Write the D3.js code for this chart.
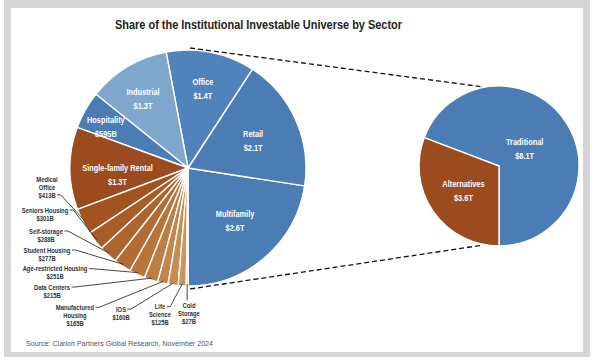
<!DOCTYPE html>
<html><head><meta charset="utf-8">
<script src="https://cdn.jsdelivr.net/npm/d3@7/dist/d3.min.js"></script>
<style>body{margin:0;background:#fff}svg{display:block}
text{font-family:"Liberation Sans",Arial,sans-serif}</style>
</head><body><svg id="c" width="600" height="360"></svg>
<script>
// ---- data ----
const sectors = ["Multifamily","Retail","Office","Industrial","Hospitality","Single-family Rental","Medical Office","Seniors Housing","Self-storage","Student Housing","Age-restricted Housing","Data Centers","Manufactured Housing","IOS","Life Science","Cold Storage"];
const valuesB = [2600,2100,1400,1300,595,1300,413,301,288,277,251,215,165,160,125,27];
const valueLabels = ["$2.6T","$2.1T","$1.4T","$1.3T","$595B","$1.3T","$413B","$301B","$288B","$277B","$251B","$215B","$165B","$160B","$125B","$27B"];
const summaryCats = ["Traditional","Alternatives"];
const summaryValuesT = [8.1,3.6];
const summaryLabels = ["$8.1T","$3.6T"];
const titleText = "Share of the Institutional Investable Universe by Sector";
const sourceText = "Source: Clarion Partners Global Research, November 2024";

// ---- styles / layout ----
const sectorColors = ["#4b7cb4","#4b7cb4","#5083bb","#7fa6cd","#4b7cb4","#9b4b1e",
  "#a3531f","#a95c26","#ae652d","#b36d34","#b8753b","#bd7e44","#c1864c","#c58d54","#c9955d","#cd9c65"];
const summaryColors = ["#4b7cb4","#9b4b1e"];
// inner labels for the large slices: [angle offset deg, radius fraction]
const innerLabelPos = {0:[-1,0.60],1:[1,0.60],2:[-0.5,0.68],3:[-2,0.70],4:[-2.6,0.78],5:[-5.4,0.60]};
// outer labels: [cx, first-line centre y, lines, leader anchor]
const outerLayout = {
  6:[47,179,["Medical","Office","$413B"],"last"],
  7:[45,210,["Seniors Housing","$301B"],"first"],
  8:[46,231,["Self-storage","$288B"],"first"],
  9:[47,250,["Student Housing","$277B"],"first"],
  10:[55,268.7,["Age-restricted Housing","$251B"],"first"],
  11:[52,287,["Data Centers","$215B"],"first"],
  12:[75,307.3,["Manufactured","Housing","$165B"],"first"],
  13:[121,309,["IOS","$160B"],"first"],
  14:[160,306.7,["Life","Science","$125B"],"first"],
  15:[189,305.3,["Cold","Storage","$27B"],"top"]
};
const lh = 7.9;

const svg = d3.select("#c");
// squeezed text helper (emulates a condensed face)
function txt(parent,x,y,s,size,weight,fill,anchor,squeeze,target){
  const t=parent.append("text").attr("x",x).attr("y",y).attr("font-size",size)
    .attr("font-weight",weight).attr("fill",fill).attr("text-anchor",anchor).text(s);
  const w=t.node().getComputedTextLength();
  const nw=target?target:w*squeeze;
  t.attr("textLength",nw).attr("lengthAdjust","spacingAndGlyphs");
  return nw;
}

// frame
svg.append("rect").attr("x",4).attr("y",0).attr("width",586).attr("height",357).attr("fill","#d6d6d6");
svg.append("rect").attr("x",11).attr("y",8).attr("width",572).attr("height",344).attr("fill","#fff");

txt(svg,258.5,28.5,titleText,13.5,"bold","#222","middle",1,287);
txt(svg,26,346,sourceText,8,"normal","#555","start",1,187);

const pie = d3.pie().sort(null).startAngle(Math.PI).endAngle(-Math.PI);
const pt = (a,r)=>[Math.sin(a)*r,-Math.cos(a)*r];
const deg=Math.PI/180;

// ---- big pie ----
const C1 = [188,168], R1 = 118;
const arcs1 = pie(valuesB);
const arc1 = d3.arc().innerRadius(0).outerRadius(R1);
const g1 = svg.append("g").attr("transform",`translate(${C1})`);
g1.selectAll("path").data(arcs1).join("path").attr("d",arc1)
  .attr("fill",(d,i)=>sectorColors[i]).attr("stroke","#fff").attr("stroke-width",1.4).attr("stroke-linejoin","round");

arcs1.forEach((d,i)=>{
  const P=innerLabelPos[i]; if(!P) return;
  const mid=(d.startAngle+d.endAngle)/2+P[0]*deg;
  const [x,y]=pt(mid,R1*P[1]);
  txt(g1,x,y-3.7,sectors[i],9,"bold","#fff","middle",0.82);
  txt(g1,x,y+10.3,valueLabels[i],9,"bold","#fff","middle",0.82);
});
// outer labels with leaders
arcs1.forEach((d,i)=>{
  const L=outerLayout[i]; if(!L) return;
  const [cx,cy,lines,anchor]=L;
  const widths=lines.map((s,k)=>txt(svg,cx,cy+k*lh+2.7,s,7.5,"bold","#333","middle",0.78));
  const mid=(d.startAngle+d.endAngle)/2;
  const [ex,ey]=pt(mid,R1-2); const E=[C1[0]+ex,C1[1]+ey];
  let pts;
  if(anchor==="top"){
    pts=[[E[0],cy-5],E];
  } else {
    const k=anchor==="last"?lines.length-1:0;
    const y=cy+k*lh;
    const x0=cx+widths[k]/2+1.5;
    pts=[[x0,y],[x0+3.5,y],E];
  }
  svg.append("path").attr("d",d3.line()(pts)).attr("fill","none").attr("stroke","#333").attr("stroke-width",0.9);
});

// ---- small pie ----
const C2=[499,166], R2=80;
const arcs2=pie(summaryValuesT);
const arc2=d3.arc().innerRadius(0).outerRadius(R2);
const g2=svg.append("g").attr("transform",`translate(${C2})`);
g2.selectAll("path").data(arcs2).join("path").attr("d",arc2)
  .attr("fill",(d,i)=>summaryColors[i]).attr("stroke","#fff").attr("stroke-width",1.4);
const smallLabelR=[0.39,0.54];
arcs2.forEach((d,i)=>{
  const mid=(d.startAngle+d.endAngle)/2;
  const [x,y]=pt(mid,R2*smallLabelR[i]);
  txt(g2,x,y-3.7,summaryCats[i],9,"bold","#fff","middle",0.82);
  txt(g2,x,y+10.3,summaryLabels[i],9,"bold","#fff","middle",0.82);
});

// ---- connector dashed lines ----
const conn=[[pt(1*deg,R1+2),pt(-12*deg,R2+1)],[pt(179*deg,R1+3),pt(192*deg,R2+1)]];
conn.forEach(([a,b])=>{
  svg.append("line").attr("x1",C1[0]+a[0]).attr("y1",C1[1]+a[1]).attr("x2",C2[0]+b[0]).attr("y2",C2[1]+b[1])
    .attr("stroke","#111").attr("stroke-width",1.3).attr("stroke-dasharray","5,3");
});
</script></body></html>
